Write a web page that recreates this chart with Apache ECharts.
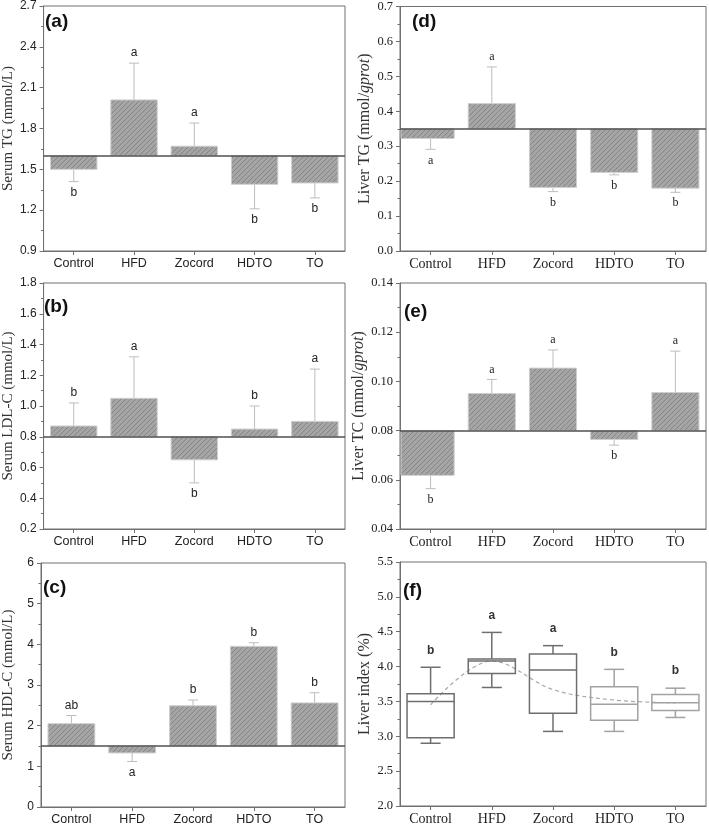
<!DOCTYPE html>
<html><head><meta charset="utf-8">
<script src="https://cdn.jsdelivr.net/npm/echarts@6/dist/echarts.min.js"></script>
<style>html,body{margin:0;padding:0;background:#fff}#c{width:709px;height:826px}</style>
</head><body><div id="c"></div><script>
const categories = ['Control', 'HFD', 'Zocord', 'HDTO', 'TO'];

// (a) Serum TG (mmol/L): mean and error-bar end
const serumTG = [1.50, 2.01, 1.67, 1.39, 1.40];
const serumTGErr = [1.41, 2.28, 1.84, 1.21, 1.29];
const serumTGSig = ['b', 'a', 'a', 'b', 'b'];

// (b) Serum LDL-C (mmol/L)
const serumLDL = [0.87, 1.05, 0.65, 0.85, 0.90];
const serumLDLErr = [1.02, 1.32, 0.50, 1.00, 1.24];
const serumLDLSig = ['b', 'a', 'b', 'b', 'a'];

// (c) Serum HDL-C (mmol/L)
const serumHDL = [2.05, 1.33, 2.49, 3.95, 2.56];
const serumHDLErr = [2.25, 1.12, 2.63, 4.04, 2.81];
const serumHDLSig = ['ab', 'a', 'b', 'b', 'b'];

// (d) Liver TG (mmol/gprot)
const liverTG = [0.322, 0.422, 0.182, 0.225, 0.180];
const liverTGErr = [0.291, 0.527, 0.170, 0.218, 0.168];
const liverTGSig = ['a', 'a', 'b', 'b', 'b'];

// (e) Liver TC (mmol/gprot)
const liverTC = [0.0618, 0.0951, 0.1054, 0.0764, 0.0955];
const liverTCErr = [0.0564, 0.1008, 0.1128, 0.0741, 0.1123];
const liverTCSig = ['b', 'a', 'a', 'b', 'a'];

// (f) Liver index (%) box plot: min, Q1, median, Q3, max
const liverIdxMin = [2.90, 3.70, 3.07, 3.07, 3.27];
const liverIdxQ1 = [2.98, 3.90, 3.33, 3.23, 3.37];
const liverIdxMed = [3.50, 4.08, 3.95, 3.46, 3.48];
const liverIdxQ3 = [3.61, 4.11, 4.18, 3.71, 3.60];
const liverIdxMax = [3.99, 4.49, 4.30, 3.96, 3.69];
const liverIdxMean = [3.45, 4.08, 3.67, 3.52, 3.48];
const liverIdxSig = ['b', 'a', 'a', 'b', 'b'];

// ---------------------------------------------------------------
const SANS = '"Liberation Sans", Arial, sans-serif';
const SERIF = '"Liberation Serif", "Times New Roman", serif';

function makeHatch() {
  const s = 5;
  const c = document.createElement('canvas');
  c.width = s; c.height = s;
  const g = c.getContext('2d');
  g.fillStyle = '#a5a5a5';
  g.fillRect(0, 0, s, s);
  g.strokeStyle = '#868686';
  g.lineWidth = 1;
  g.beginPath();
  g.moveTo(-1, s + 1); g.lineTo(s + 1, -1);
  g.moveTo(-1, 1); g.lineTo(1, -1);
  g.moveTo(s - 1, s + 1); g.lineTo(s + 1, s - 1);
  g.stroke();
  return c;
}
const hatch = { image: makeHatch(), repeat: 'repeat' };

const grids = [
  { left: 39, top: 5, width: 306, height: 246 },
  { left: 39, top: 283, width: 306, height: 246 },
  { left: 39, top: 563, width: 306, height: 246 },
  { left: 400, top: 5, width: 306, height: 246 },
  { left: 400, top: 283, width: 306, height: 246 },
  { left: 400, top: 562, width: 306, height: 246 }
];

const panels = [
  { label: '(a)', lx: 45, ly: 12, name: 'Serum TG (mmol/L)', min: 0.9, max: 2.7, interval: 0.3, dec: 1, baseline: 1.6,
    vals: serumTG, err: serumTGErr, sig: serumTGSig, tickFont: SANS, letterFont: '12px ' + SANS, firstFromAxis: false },
  { label: '(b)', lx: 44, ly: 297, name: 'Serum LDL-C (mmol/L)', min: 0.2, max: 1.8, interval: 0.2, dec: 1, baseline: 0.8,
    vals: serumLDL, err: serumLDLErr, sig: serumLDLSig, tickFont: SANS, letterFont: '12px ' + SANS, firstFromAxis: false },
  { label: '(c)', lx: 43, ly: 578, name: 'Serum HDL-C (mmol/L)', min: 0, max: 6, interval: 1, dec: 0, baseline: 1.5,
    vals: serumHDL, err: serumHDLErr, sig: serumHDLSig, tickFont: SANS, letterFont: '12px ' + SANS, firstFromAxis: false },
  { label: '(d)', lx: 412, ly: 12, name: 'Liver TG (mmol/{i|gprot})', min: 0, max: 0.7, interval: 0.1, dec: 1, baseline: 0.35,
    vals: liverTG, err: liverTGErr, sig: liverTGSig, tickFont: SERIF, letterFont: '12px ' + SERIF, firstFromAxis: true },
  { label: '(e)', lx: 404, ly: 302, name: 'Liver TC (mmol/{i|gprot})', min: 0.04, max: 0.14, interval: 0.02, dec: 2, baseline: 0.08,
    vals: liverTC, err: liverTCErr, sig: liverTCSig, tickFont: SERIF, letterFont: '12px ' + SERIF, firstFromAxis: true },
  { label: '(f)', lx: 403, ly: 581, name: 'Liver index (%)', min: 2.0, max: 5.5, interval: 0.5, dec: 1,
    tickFont: SERIF, box: true }
];

const AXIS_COLOR = '#707070';

const option = {
  animation: false,
  backgroundColor: '#fff',
  grid: grids.map(g => Object.assign({ show: true, borderColor: AXIS_COLOR, borderWidth: 1, backgroundColor: 'transparent' }, g)),
  xAxis: panels.map((p, k) => ({
    type: 'category', gridIndex: k, data: categories, boundaryGap: true,
    axisLine: { show: true, lineStyle: { color: AXIS_COLOR, width: 1 } },
    axisTick: { show: true, alignWithLabel: true, length: 4, lineStyle: { color: AXIS_COLOR } },
    axisLabel: { show: true, interval: 0, margin: 6, color: '#222',
      fontFamily: p.tickFont, fontSize: p.tickFont === SANS ? 12.5 : 14 },
    splitLine: { show: false }
  })),
  yAxis: panels.map((p, k) => ({
    type: 'value', gridIndex: k, min: p.min, max: p.max, interval: p.interval,
    name: p.name, nameLocation: 'middle', nameGap: k < 3 ? 25 : 27,
    nameTextStyle: { fontFamily: SERIF, fontSize: k < 3 ? 15 : 16, color: '#333',
      rich: { i: { fontFamily: SERIF, fontSize: 16, fontStyle: 'italic', color: '#333' } } },
    axisLine: { show: true, lineStyle: { color: AXIS_COLOR, width: 1 } },
    axisTick: { show: true, length: 4, lineStyle: { color: AXIS_COLOR } },
    minorTick: { show: true, splitNumber: 2, length: 2.5, lineStyle: { color: AXIS_COLOR } },
    axisLabel: { show: true, margin: 7, color: '#222', fontFamily: p.tickFont, fontSize: p.tickFont === SANS ? 12 : 12.5,
      formatter: v => Number(v).toFixed(p.dec) },
    splitLine: { show: false }
  })),
  graphic: panels.map(p => ({
    type: 'text', left: p.lx, top: p.ly, z: 100,
    style: { text: p.label, font: 'bold 19px ' + SANS, fill: '#111' }
  })),
  series: []
};

function barRenderer(p) {
  return function (params, api) {
    const i = params.dataIndex;
    const v = p.vals[i], e = p.err[i];
    const b = api.coord([i, p.baseline]);
    const t = api.coord([i, v]);
    const te = api.coord([i, e]);
    const w = api.size([1, 0])[0] * 0.77;
    let x0 = b[0] - w / 2;
    const x1 = b[0] + w / 2;
    if (p.firstFromAxis && i === 0) x0 = params.coordSys.x + 1;
    const up = v >= p.baseline;
    const y0 = Math.min(b[1], t[1]);
    const h = Math.abs(b[1] - t[1]);
    return {
      type: 'group',
      children: [
        { type: 'line', shape: { x1: b[0], y1: t[1], x2: b[0], y2: te[1] }, style: { stroke: '#bdbdbd', lineWidth: 1 } },
        { type: 'line', shape: { x1: b[0] - 5, y1: te[1], x2: b[0] + 5, y2: te[1] }, style: { stroke: '#bdbdbd', lineWidth: 1 } },
        { type: 'rect', shape: { x: x0, y: y0, width: x1 - x0, height: h },
          style: { fill: hatch, stroke: '#cfcfcf', lineWidth: 1 } },
        { type: 'text', x: b[0], y: up ? te[1] - 10 : te[1] + 11,
          style: { text: p.sig[i], align: 'center', verticalAlign: 'middle', font: p.letterFont, fill: '#222' } }
      ]
    };
  };
}

const boxColors = ['#6e6e6e', '#6e6e6e', '#6e6e6e', '#a2a2a2', '#a2a2a2'];

function boxRenderer(params, api) {
  const i = params.dataIndex;
  const c = api.coord([i, liverIdxMed[i]]);
  const x = c[0];
  const yMin = api.coord([i, liverIdxMin[i]])[1];
  const yQ1 = api.coord([i, liverIdxQ1[i]])[1];
  const yMed = c[1];
  const yQ3 = api.coord([i, liverIdxQ3[i]])[1];
  const yMax = api.coord([i, liverIdxMax[i]])[1];
  const w = api.size([1, 0])[0] * 0.77;
  const cw = 10;
  const st = { stroke: boxColors[i], lineWidth: 1.5, fill: null };
  return {
    type: 'group',
    children: [
      { type: 'line', shape: { x1: x, y1: yQ3, x2: x, y2: yMax }, style: st },
      { type: 'line', shape: { x1: x, y1: yQ1, x2: x, y2: yMin }, style: st },
      { type: 'line', shape: { x1: x - cw, y1: yMax, x2: x + cw, y2: yMax }, style: st },
      { type: 'line', shape: { x1: x - cw, y1: yMin, x2: x + cw, y2: yMin }, style: st },
      { type: 'rect', shape: { x: x - w / 2, y: yQ3, width: w, height: yQ1 - yQ3 }, style: st },
      { type: 'line', shape: { x1: x - w / 2, y1: yMed, x2: x + w / 2, y2: yMed }, style: st },
      { type: 'text', x: x, y: yMax - 17,
        style: { text: liverIdxSig[i], align: 'center', verticalAlign: 'middle', font: 'bold 12px ' + SANS, fill: '#333' } }
    ]
  };
}

panels.forEach((p, k) => {
  if (p.box) {
    option.series.push({
      type: 'line', xAxisIndex: k, yAxisIndex: k, data: liverIdxMean, smooth: 0.35,
      symbol: 'none', silent: true, z: 1,
      lineStyle: { color: '#a8a8a8', width: 1.2, type: [4, 3] }
    });
    option.series.push({
      type: 'custom', xAxisIndex: k, yAxisIndex: k, z: 2,
      data: categories.map((c, i) => [i, liverIdxMin[i], liverIdxMax[i]]),
      encode: { x: 0, y: [1, 2] },
      renderItem: boxRenderer
    });
  } else {
    option.series.push({
      type: 'custom', xAxisIndex: k, yAxisIndex: k, z: 2,
      data: categories.map((c, i) => [i, p.vals[i], p.err[i]]),
      encode: { x: 0, y: [1, 2] },
      renderItem: barRenderer(p),
      markLine: {
        silent: true, symbol: 'none', label: { show: false }, z: 5,
        lineStyle: { color: '#505050', width: 1.5, type: 'solid' },
        data: [{ yAxis: p.baseline }]
      }
    });
  }
});

const chart = echarts.init(document.getElementById('c'), null, { renderer: 'canvas' });
chart.setOption(option);
</script></body></html>
